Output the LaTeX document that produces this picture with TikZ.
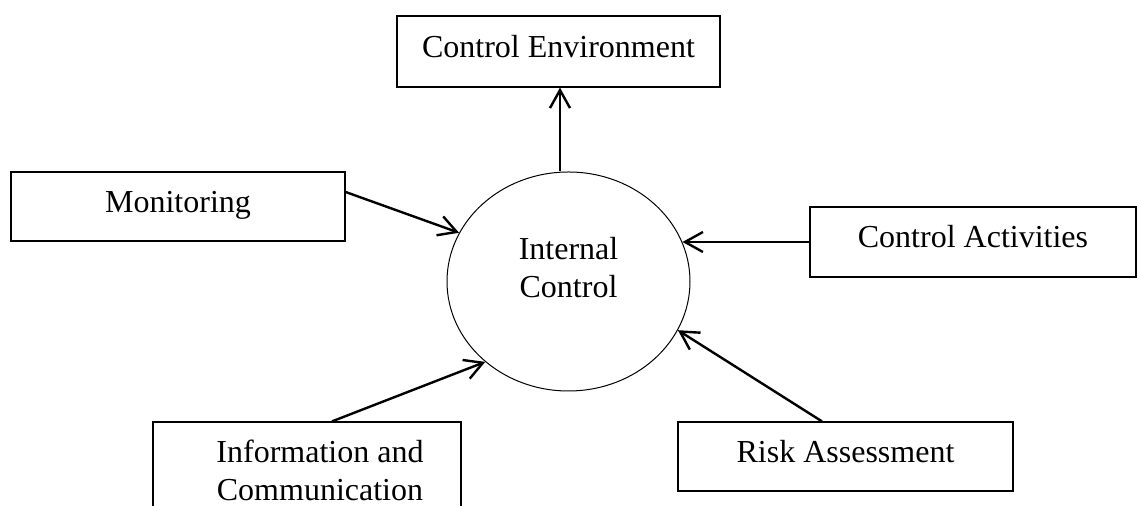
\documentclass[tikz,border=0pt]{standalone}
\usepackage{fontspec}
\setmainfont{Liberation Serif}
\usetikzlibrary{shapes.geometric,arrows.meta}

\begin{document}
\begin{tikzpicture}[x=0.5pt, y=-0.5pt, >={Straight Barb[length=9pt,width=10pt]},
    font=\fontsize{16}{19}\selectfont,
    box/.style={rectangle, draw, line width=0.6pt},
    oneline/.style={text height=11pt, text depth=5pt},
    arr/.style={->, line width=1.2pt}]
                \useasboundingbox (0,0) rectangle (1137,506);
                \clip (0,0) rectangle (1137,506);

                % Define nodes
                \node[ellipse, draw, line width=0.5pt, minimum width=121.5pt, minimum height=109.5pt, align=center, text depth=14pt] (IC) at (568.5,281.5) {Internal\\Control};
                \node[box, oneline, minimum width=161.5pt, minimum height=35.5pt] (CE) at (558.5,51.5) {Control Environment};
                \node[box, oneline, minimum width=167pt, minimum height=34.5pt] (Mon) at (178,206.5) {Monitoring};
                \node[box, oneline, minimum width=163pt, minimum height=35pt] (CA) at (973,242) {Control Activities};
                \node[box, oneline, minimum width=167.5pt, minimum height=34.5pt] (RA) at (845.5,456.5) {Risk Assessment};
                \node[box, align=center, minimum width=154pt, minimum height=48pt] (IaC) at (307,470) {\hspace*{13pt}Information and\\\hspace*{13pt}Communication};

                % Draw the edges into the circle
                \draw[arr] ([xshift=-4.25pt]IC.north) -- ([xshift=-4.25pt]IC.north |- CE.south);
                \draw[arr] ([yshift=7.25pt]Mon.east) -- (IC.156);
                \draw[arr] (CA.west) -- (CA.west -| IC.19);
                \draw[arr] ([xshift=-11.75pt]RA.north) -- (IC.-24);
                \draw[arr] ([xshift=12.5pt]IaC.north) -- (IC.224);
            \end{tikzpicture}
\end{document}
